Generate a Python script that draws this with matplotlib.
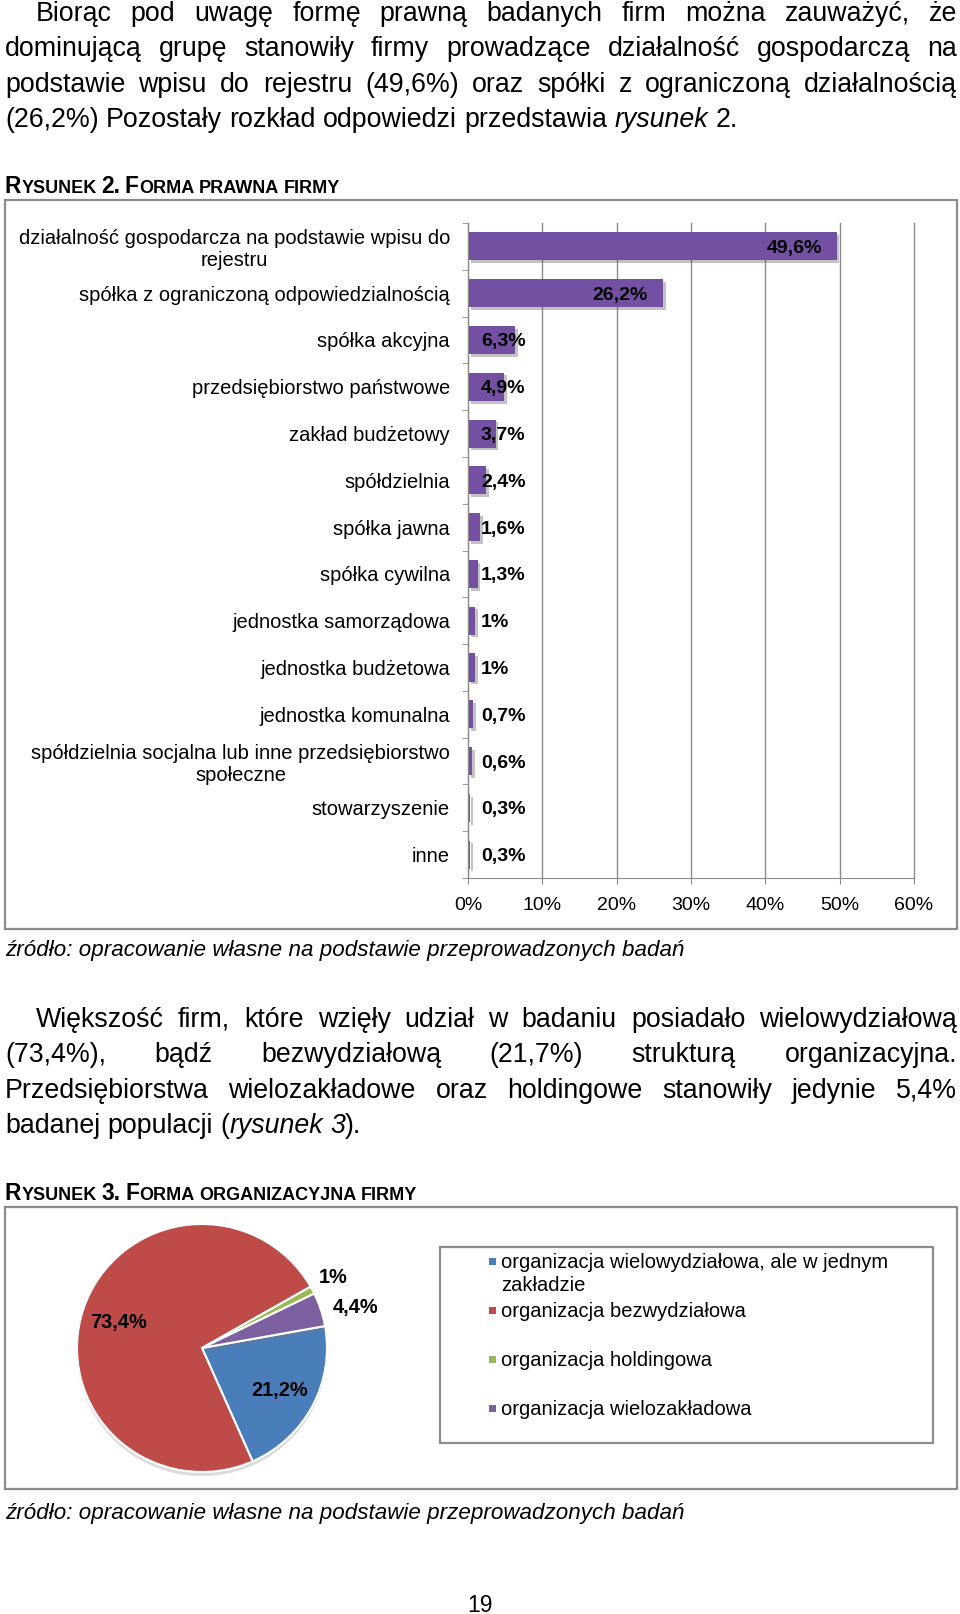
import matplotlib
matplotlib.use('Agg')
import matplotlib.pyplot as plt
import matplotlib.patheffects as pe
from matplotlib.patches import Rectangle
import numpy as np

plt.rcParams['font.family'] = ['Liberation Sans', 'DejaVu Sans']

W, H = 960, 1614

# tekst strony
para1 = ['Biorąc pod uwagę formę prawną badanych firm można zauważyć, że',
         'dominującą grupę stanowiły firmy prowadzące działalność gospodarczą na',
         'podstawie wpisu do rejestru (49,6%) oraz spółki z ograniczoną działalnością',
         '(26,2%) Pozostały rozkład odpowiedzi przedstawia *rysunek* 2.']
para2 = ['Większość firm, które wzięły udział w badaniu posiadało wielowydziałową',
         '(73,4%), bądź bezwydziałową (21,7%) strukturą organizacyjna.',
         'Przedsiębiorstwa wielozakładowe oraz holdingowe stanowiły jedynie 5,4%',
         'badanej populacji (*rysunek 3*).']
source = 'źródło: opracowanie własne na podstawie przeprowadzonych badań'

# rysunek 2
forms = ['działalność gospodarcza na podstawie wpisu do\nrejestru',
         'spółka z ograniczoną odpowiedzialnością',
         'spółka akcyjna',
         'przedsiębiorstwo państwowe',
         'zakład budżetowy',
         'spółdzielnia',
         'spółka jawna',
         'spółka cywilna',
         'jednostka samorządowa',
         'jednostka budżetowa',
         'jednostka komunalna',
         'spółdzielnia socjalna lub inne przedsiębiorstwo\nspołeczne',
         'stowarzyszenie',
         'inne']
form_pct = [49.6, 26.2, 6.3, 4.9, 3.7, 2.4, 1.6, 1.3, 1, 1, 0.7, 0.6, 0.3, 0.3]
pct_ticks = [0, 10, 20, 30, 40, 50, 60]

# rysunek 3
org_types = ['organizacja wielowydziałowa, ale w jednym\nzakładzie',
             'organizacja bezwydziałowa',
             'organizacja holdingowa',
             'organizacja wielozakładowa']
org_pct = [21.2, 73.4, 1, 4.4]
org_colors = ['#4a7ebb', '#be4b48', '#98b954', '#7d60a0']


def fx(x):
    return x / W


def fy(y):
    return 1 - y / H


def pct_label(v):
    return ('%g' % v).replace('.', ',') + '%'


fig = plt.figure(figsize=(9.6, 16.14), dpi=100)
renderer = fig.canvas.get_renderer()


def width_of(s, **kw):
    t = fig.text(0, 0, s, **kw)
    w = t.get_window_extent(renderer).width
    t.remove()
    return w


def parse(line):
    words = []
    italic = False
    for w in line.split(' '):
        parts = []
        for i, seg in enumerate(w.split('*')):
            if i > 0:
                italic = not italic
            if seg:
                parts.append((seg, italic))
        words.append(parts)
    return words


def draw_line(line, x0, x1, yb, size, justify=True):
    words = parse(line)
    widths = [[width_of(s, fontsize=size, style='italic' if it else 'normal')
               for s, it in w] for w in words]
    total = sum(sum(ws) for ws in widths)
    space = width_of('a a', fontsize=size) - width_of('aa', fontsize=size)
    if justify and len(words) > 1:
        gap = (x1 - x0 - total) / (len(words) - 1)
    else:
        gap = space
    x = x0
    for w, ws in zip(words, widths):
        for (s, it), sw in zip(w, ws):
            fig.text(fx(x), fy(yb), s, fontsize=size, va='baseline', ha='left',
                     style='italic' if it else 'normal')
            x += sw
        x += gap


def draw_paragraph(lines, yb0, step=35.4, size=19.3):
    for i, line in enumerate(lines):
        x0 = 36 if i == 0 else 5
        draw_line(line, x0, 957, yb0 + i * step, size, justify=(i < len(lines) - 1))


def draw_smallcaps(text, x0, yb, big=16.4, small=13.0):
    space = width_of('A A', fontsize=big, weight='bold') - width_of('AA', fontsize=big, weight='bold')
    x = x0
    for word in text.split(' '):
        runs = []
        for ch in word:
            low = ch.islower()
            if runs and runs[-1][1] == low:
                runs[-1][0] += ch
            else:
                runs.append([ch, low])
        for s, low in runs:
            size = small if low else big
            fig.text(fx(x), fy(yb), s.upper(), fontsize=size, weight='bold',
                     va='baseline', ha='left')
            x += width_of(s.upper(), fontsize=size, weight='bold')
        x += space


def frame(x0, y0, x1, y1):
    fig.add_artist(Rectangle((fx(x0), fy(y1)), (x1 - x0) / W, (y1 - y0) / H,
                             transform=fig.transFigure, fill=False,
                             edgecolor='#8c8c8c', lw=1.6))


# akapit 1 i rysunek 2
draw_paragraph(para1, 21)
draw_smallcaps('Rysunek 2. Forma prawna firmy', 5, 193)
frame(5, 200, 957, 929)

ax = fig.add_axes([fx(468), fy(878), (914 - 468) / W, (878 - 223) / H])
ypos = np.arange(len(forms))
ax.barh(ypos, form_pct, height=0.6, color='#7350a2',
        path_effects=[pe.withSimplePatchShadow(offset=(2, -2), shadow_rgbFace='#555555', alpha=0.35)])
ax.set_xlim(0, 60)
ax.set_ylim(len(forms) - 0.5, -0.5)
ax.set_yticks(ypos, forms, fontsize=14.5)
for lbl in ax.get_yticklabels():
    lbl.set_multialignment('center')
ax.set_yticks(np.arange(-0.5, len(forms)), minor=True)
ax.tick_params(axis='y', which='major', length=0, pad=13)
ax.tick_params(axis='y', which='minor', length=4.5, color='#8c8c8c')
ax.set_xticks(pct_ticks, ['%d%%' % v for v in pct_ticks], fontsize=14)
ax.tick_params(axis='x', length=4, color='#8c8c8c', pad=10)
ax.grid(axis='x', color='#8c8c8c', lw=1)
for g in ax.xaxis.get_gridlines():
    g.set_clip_on(False)
ax.set_axisbelow(True)
for s in ['top', 'right']:
    ax.spines[s].set_visible(False)
for s in ['left', 'bottom']:
    ax.spines[s].set_color('#8c8c8c')
for i, v in enumerate(form_pct):
    if v > 10:
        ax.text(v - 2.0, i, pct_label(v), ha='right', va='center_baseline', fontsize=14, weight='bold')
    else:
        ax.text(1.75, i, pct_label(v), ha='left', va='center_baseline', fontsize=14, weight='bold')

fig.text(fx(5), fy(956), source, fontsize=16.1, style='italic', va='baseline')

# akapit 2 i rysunek 3
draw_paragraph(para2, 1027)
draw_smallcaps('Rysunek 3. Forma organizacyjna firmy', 5, 1200)
frame(5, 1207, 957, 1489)

cx, cy, rx, ry = 202, 1348, 125, 124
pax = fig.add_axes([fx(cx - rx), fy(cy + ry), 2 * rx / W, 2 * ry / H])
wedges, _ = pax.pie(org_pct, colors=org_colors, startangle=10.2, counterclock=False,
                    wedgeprops=dict(edgecolor='white', linewidth=1.5))
for w in wedges:
    w.set_path_effects([pe.withSimplePatchShadow(offset=(0, -3), shadow_rgbFace='#777777', alpha=0.25)])
pax.set_aspect('auto')
pax.set_xlim(-1, 1)
pax.set_ylim(-1, 1)
n_small = 0
for w, v in zip(wedges, org_pct):
    ang = np.deg2rad((w.theta1 + w.theta2) / 2)
    if v > 10:
        pax.text(0.7 * np.cos(ang), 0.7 * np.sin(ang), pct_label(v), ha='center',
                 va='center_baseline', fontsize=14.4, weight='bold')
    else:
        # small slices: labels outside, pushed apart so they do not touch
        va = 'bottom' if n_small == 0 else 'center_baseline'
        r = 1.06 if n_small == 0 else 1.1
        pax.text(r * np.cos(ang), r * np.sin(ang), pct_label(v), ha='left', va=va,
                 fontsize=14.4, weight='bold')
        n_small += 1

# legenda
frame(440, 1247, 933, 1443)
for i, (name, col) in enumerate(zip(org_types, org_colors)):
    yc = 1261 + 49 * i
    fig.add_artist(Rectangle((fx(489), fy(yc + 4)), 7 / W, 7 / H, transform=fig.transFigure,
                             facecolor=col, edgecolor='none'))
    for k, part in enumerate(name.split('\n')):
        fig.text(fx(501), fy(yc + 7 + 23 * k), part, fontsize=14.5, va='baseline', ha='left')

fig.text(fx(5), fy(1519), source, fontsize=16.1, style='italic', va='baseline')
fig.text(fx(480), fy(1605), '19', fontsize=16.5, ha='center', va='center')

fig.savefig('out.png', dpi=100)
